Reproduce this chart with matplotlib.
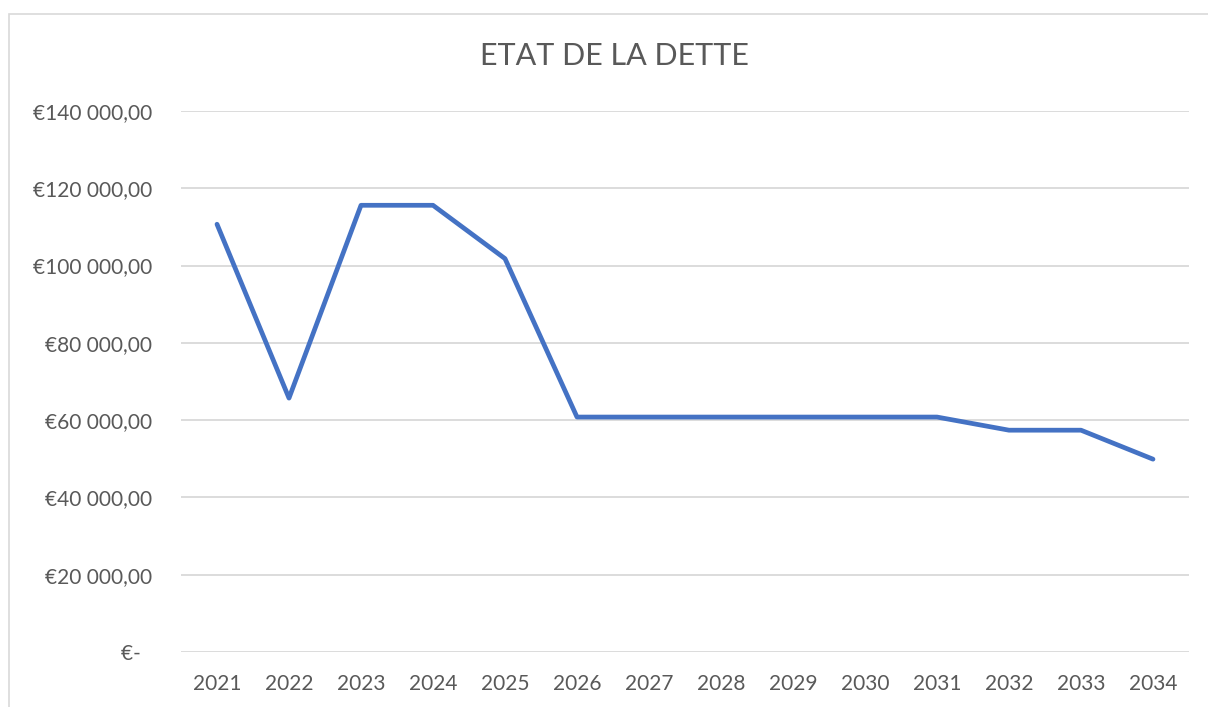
import matplotlib.pyplot as plt
from matplotlib.patches import Rectangle
from matplotlib.ticker import FuncFormatter

# Données de la dette
annees = ["2021", "2022", "2023", "2024", "2025", "2026", "2027",
          "2028", "2029", "2030", "2031", "2032", "2033", "2034"]
dette = [110700, 65700, 115600, 115600, 101800, 60800, 60800,
         60800, 60800, 60800, 60800, 57400, 57400, 49900]
y_ticks = [0, 20000, 40000, 60000, 80000, 100000, 120000, 140000]

plt.rcParams['font.family'] = ['Lato', 'DejaVu Sans']
gris = "#595959"


def euro(v, pos=None):
    if v == 0:
        return "€-  "
    return "€" + f"{v:,.2f}".replace(",", " ").replace(".", ",")


fig = plt.figure(figsize=(12.08, 7.07), dpi=100)
ax = fig.add_axes([181 / 1208, 1 - 652 / 707, (1189 - 181) / 1208, (652 - 111) / 707])

# cadre du graphique (coupé à droite et en bas)
fig.patches.append(Rectangle((8.5 / 1208, -0.1), 1.2, 1 - 13.5 / 707 + 0.1,
                             transform=fig.transFigure, fill=False,
                             edgecolor="#D9D9D9", linewidth=1.2))

x = range(len(annees))
ax.plot(x, dette, color="#4472C4", linewidth=3.4, solid_joinstyle="round",
        solid_capstyle="round", zorder=3)

ax.set_xlim(-0.5, len(annees) - 0.5)
ax.set_ylim(0, 140000)
ax.set_yticks(y_ticks)
ax.yaxis.set_major_formatter(FuncFormatter(euro))
ax.set_xticks(list(x))
ax.set_xticklabels(annees)

ax.grid(axis="y", color="#D9D9D9", linewidth=1.3)
ax.set_axisbelow(True)
for s in ax.spines.values():
    s.set_visible(False)
ax.tick_params(axis="both", length=0, colors=gris, labelsize=15)
ax.tick_params(axis="y", pad=21)
ax.tick_params(axis="x", pad=15.5)

fig.text(614 / 1208, 1 - 56 / 707, "ETAT DE LA DETTE", ha="center", va="center",
         fontsize=22, color=gris)

fig.savefig("out.png", dpi=100)
